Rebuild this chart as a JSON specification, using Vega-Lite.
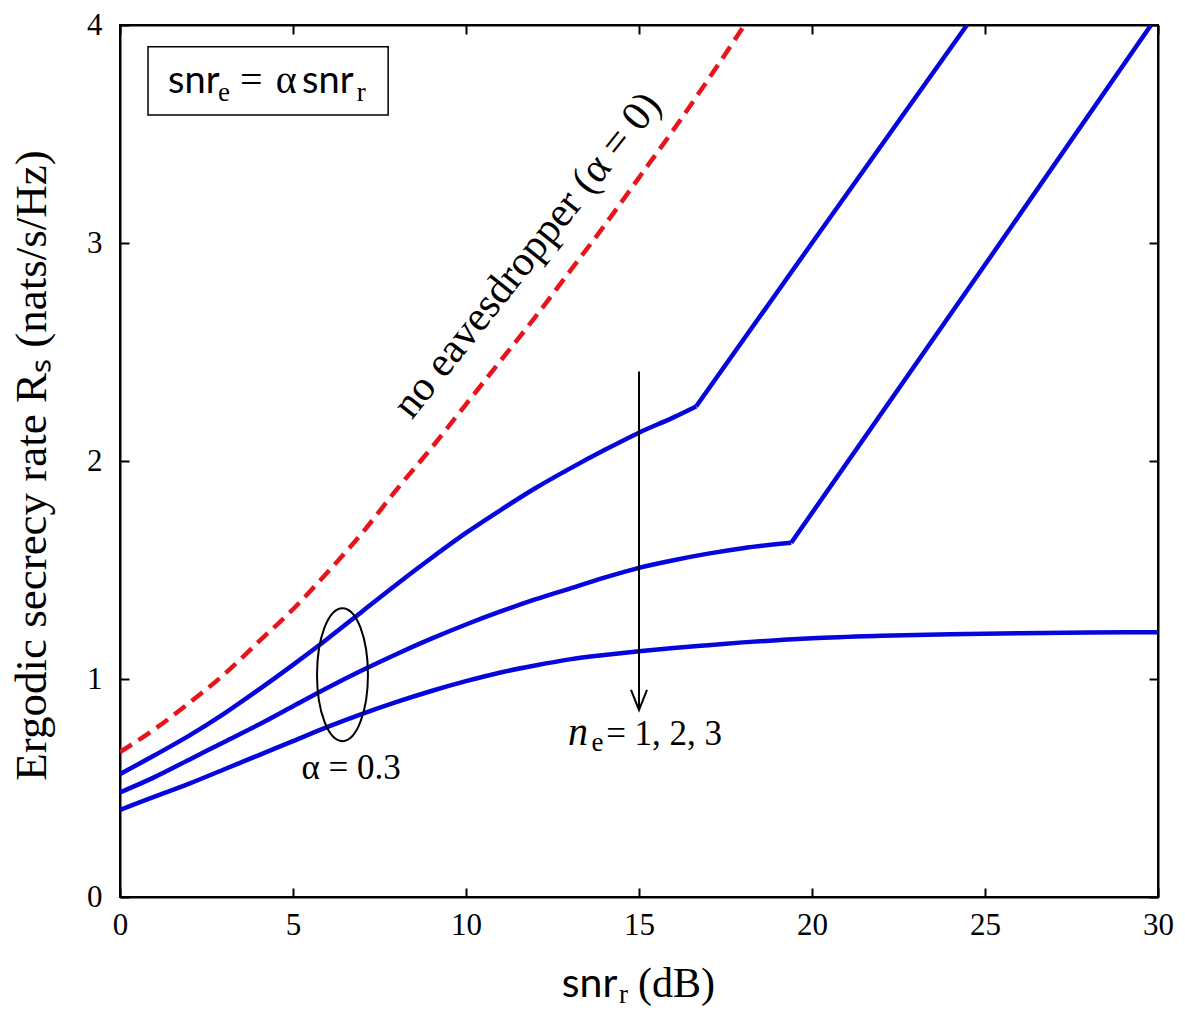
{
  "$schema": "https://vega.github.io/schema/vega-lite/v6.json",
  "width": 1038,
  "height": 872,
  "autosize": {"type": "none"},
  "padding": {"left": 120, "top": 25, "right": 27, "bottom": 116},
  "background": "white",
  "config": {
    "view": {"stroke": "black", "strokeWidth": 2},
    "axis": {
      "domainColor": "black", "domainWidth": 2,
      "tickColor": "black", "tickWidth": 2, "tickSize": -9,
      "labelFont": "Liberation Serif", "labelFontSize": 31, "labelColor": "black", "labelFlush": false,
      "grid": false,
      "titleFont": "Liberation Serif", "titleFontSize": 45, "titleColor": "black", "titleFontWeight": "normal"
    }
  },
  "datasets": {
    "bluecurve": [
      {"x": 0, "y": 0.564, "n": "1"}, {"x": 1, "y": 0.65, "n": "1"}, {"x": 2, "y": 0.74, "n": "1"}, {"x": 3, "y": 0.84, "n": "1"},
      {"x": 4, "y": 0.95, "n": "1"}, {"x": 5, "y": 1.065, "n": "1"}, {"x": 6, "y": 1.185, "n": "1"}, {"x": 7, "y": 1.31, "n": "1"},
      {"x": 8, "y": 1.435, "n": "1"}, {"x": 9, "y": 1.555, "n": "1"}, {"x": 10, "y": 1.67, "n": "1"}, {"x": 11, "y": 1.775, "n": "1"},
      {"x": 12, "y": 1.875, "n": "1"}, {"x": 13, "y": 1.965, "n": "1"}, {"x": 14, "y": 2.05, "n": "1"}, {"x": 15, "y": 2.13, "n": "1"},
      {"x": 16, "y": 2.20, "n": "1"}, {"x": 16.65, "y": 2.25, "n": "1"},
      {"x": 0, "y": 0.48, "n": "2"}, {"x": 1, "y": 0.55, "n": "2"}, {"x": 2, "y": 0.63, "n": "2"}, {"x": 3, "y": 0.71, "n": "2"},
      {"x": 4, "y": 0.79, "n": "2"}, {"x": 5, "y": 0.875, "n": "2"}, {"x": 6, "y": 0.96, "n": "2"}, {"x": 7, "y": 1.04, "n": "2"},
      {"x": 8, "y": 1.115, "n": "2"}, {"x": 9, "y": 1.185, "n": "2"}, {"x": 10, "y": 1.25, "n": "2"}, {"x": 11, "y": 1.31, "n": "2"},
      {"x": 12, "y": 1.365, "n": "2"}, {"x": 13, "y": 1.415, "n": "2"}, {"x": 14, "y": 1.465, "n": "2"}, {"x": 15, "y": 1.51, "n": "2"},
      {"x": 16, "y": 1.545, "n": "2"}, {"x": 17, "y": 1.575, "n": "2"}, {"x": 18, "y": 1.60, "n": "2"}, {"x": 19.4, "y": 1.625, "n": "2"},
      {"x": 0, "y": 0.40, "n": "3"}, {"x": 1, "y": 0.46, "n": "3"}, {"x": 2, "y": 0.52, "n": "3"}, {"x": 3, "y": 0.585, "n": "3"},
      {"x": 4, "y": 0.65, "n": "3"}, {"x": 5, "y": 0.715, "n": "3"}, {"x": 6, "y": 0.78, "n": "3"}, {"x": 7, "y": 0.84, "n": "3"},
      {"x": 8, "y": 0.895, "n": "3"}, {"x": 9, "y": 0.945, "n": "3"}, {"x": 10, "y": 0.99, "n": "3"}, {"x": 11, "y": 1.03, "n": "3"},
      {"x": 12, "y": 1.062, "n": "3"}, {"x": 13, "y": 1.09, "n": "3"}, {"x": 14, "y": 1.11, "n": "3"}, {"x": 15, "y": 1.127, "n": "3"},
      {"x": 16, "y": 1.142, "n": "3"}, {"x": 17, "y": 1.155, "n": "3"}, {"x": 18, "y": 1.168, "n": "3"}, {"x": 19, "y": 1.178, "n": "3"},
      {"x": 20, "y": 1.187, "n": "3"}, {"x": 22, "y": 1.198, "n": "3"}, {"x": 24, "y": 1.205, "n": "3"}, {"x": 26, "y": 1.21, "n": "3"},
      {"x": 28, "y": 1.213, "n": "3"}, {"x": 30, "y": 1.215, "n": "3"}
    ],
    "bluestraight": [
      {"x": 16.65, "y": 2.25, "n": "1"}, {"x": 20, "y": 3.0, "n": "1"}, {"x": 24.48, "y": 4.0, "n": "1"},
      {"x": 19.4, "y": 1.625, "n": "2"}, {"x": 25, "y": 2.9, "n": "2"}, {"x": 29.8, "y": 4.0, "n": "2"}
    ],
    "red": [
      {"x": 0, "y": 0.665}, {"x": 1, "y": 0.77}, {"x": 2, "y": 0.89}, {"x": 3, "y": 1.02}, {"x": 4, "y": 1.17},
      {"x": 5, "y": 1.32}, {"x": 6, "y": 1.49}, {"x": 7, "y": 1.67}, {"x": 8, "y": 1.87}, {"x": 9, "y": 2.06},
      {"x": 10, "y": 2.26}, {"x": 11, "y": 2.46}, {"x": 12, "y": 2.66}, {"x": 13, "y": 2.87}, {"x": 14, "y": 3.08},
      {"x": 15, "y": 3.30}, {"x": 16, "y": 3.52}, {"x": 17, "y": 3.75}, {"x": 18.05, "y": 4.0}
    ]
  },
  "layer": [
    {
      "data": {"name": "bluecurve"},
      "mark": {"type": "line", "color": "#0505dc", "strokeWidth": 4.5, "interpolate": "monotone", "clip": true},
      "encoding": {
        "x": {"field": "x", "type": "quantitative", "scale": {"domain": [0, 30], "nice": false},
              "axis": {"orient": "bottom", "values": [0, 5, 10, 15, 20, 25, 30], "title": null, "labelPadding": 22}},
        "y": {"field": "y", "type": "quantitative", "scale": {"domain": [0, 4], "nice": false},
              "axis": {"orient": "left", "values": [0, 1, 2, 3, 4], "labelPadding": 27,
                       "title": "Ergodic secrecy rate Rₛ (nats/s/Hz)", "titleAngle": -90, "titleX": -75, "titleY": 440,
                       "titleAlign": "center", "titleBaseline": "alphabetic"}},
        "detail": {"field": "n", "type": "nominal"}
      }
    },
    {
      "data": {"name": "bluestraight"},
      "mark": {"type": "line", "color": "#0505dc", "strokeWidth": 4.5, "clip": true},
      "encoding": {
        "x": {"field": "x", "type": "quantitative", "axis": null},
        "y": {"field": "y", "type": "quantitative", "axis": null},
        "detail": {"field": "n", "type": "nominal"}
      }
    },
    {
      "data": {"name": "red"},
      "mark": {"type": "line", "color": "#e8141c", "strokeWidth": 4.5, "strokeDash": [14, 8], "interpolate": "monotone", "clip": true},
      "encoding": {
        "x": {"field": "x", "type": "quantitative", "axis": null},
        "y": {"field": "y", "type": "quantitative", "axis": null}
      }
    },
    {
      "data": {"values": [{"x": 0.81, "x2": 7.75, "y": 3.90, "y2": 3.587}]},
      "mark": {"type": "rect", "fill": "white", "stroke": "black", "strokeWidth": 1.5},
      "encoding": {
        "x": {"field": "x", "type": "quantitative",
              "axis": {"orient": "top", "values": [0, 5, 10, 15, 20, 25, 30], "labels": false, "title": null}},
        "x2": {"field": "x2"},
        "y": {"field": "y", "type": "quantitative",
              "axis": {"orient": "right", "values": [0, 1, 2, 3, 4], "labels": false, "title": null}},
        "y2": {"field": "y2"}
      }
    },
    {
      "data": {"values": [{"x": 1.39, "y": 3.688, "t": "snr"}, {"x": 5.26, "y": 3.688, "t": "snr"}]},
      "mark": {"type": "text", "font": "Lato", "fontSize": 38, "align": "left", "baseline": "alphabetic", "color": "black"},
      "encoding": {
        "x": {"field": "x", "type": "quantitative", "axis": null},
        "y": {"field": "y", "type": "quantitative", "axis": null},
        "text": {"field": "t"}
      }
    },
    {
      "data": {"values": [{"x": 12.77, "y": -0.459, "t": "snr"}]},
      "mark": {"type": "text", "font": "Lato", "fontSize": 41, "align": "left", "baseline": "alphabetic", "color": "black"},
      "encoding": {
        "x": {"field": "x", "type": "quantitative", "axis": null},
        "y": {"field": "y", "type": "quantitative", "axis": null},
        "text": {"field": "t"}
      }
    },
    {
      "data": {"values": [{"x": 2.83, "y": 3.651, "t": "e"}, {"x": 6.84, "y": 3.651, "t": "r"}, {"x": 14.42, "y": -0.486, "t": "r"}, {"x": 13.63, "y": 0.67, "t": "e"}]},
      "mark": {"type": "text", "font": "Liberation Serif", "fontSize": 27, "align": "left", "baseline": "alphabetic", "color": "black"},
      "encoding": {
        "x": {"field": "x", "type": "quantitative", "axis": null},
        "y": {"field": "y", "type": "quantitative", "axis": null},
        "text": {"field": "t"}
      }
    },
    {
      "data": {"values": [{"x": 3.47, "y": 3.688, "t": "="}, {"x": 4.5, "y": 3.688, "t": "α"}]},
      "mark": {"type": "text", "font": "Liberation Serif", "fontSize": 40, "align": "left", "baseline": "alphabetic", "color": "black"},
      "encoding": {
        "x": {"field": "x", "type": "quantitative", "axis": null},
        "y": {"field": "y", "type": "quantitative", "axis": null},
        "text": {"field": "t"}
      }
    },
    {
      "data": {"values": [{"x": 14.97, "y": -0.459, "t": "(dB)"}]},
      "mark": {"type": "text", "font": "Liberation Serif", "fontSize": 42, "align": "left", "baseline": "alphabetic", "color": "black"},
      "encoding": {
        "x": {"field": "x", "type": "quantitative", "axis": null},
        "y": {"field": "y", "type": "quantitative", "axis": null},
        "text": {"field": "t"}
      }
    },
    {
      "data": {"values": [{"x": 14.05, "y": 0.697, "t": "= 1, 2, 3"}]},
      "mark": {"type": "text", "font": "Liberation Serif", "fontSize": 35, "align": "left", "baseline": "alphabetic", "color": "black"},
      "encoding": {
        "x": {"field": "x", "type": "quantitative", "axis": null},
        "y": {"field": "y", "type": "quantitative", "axis": null},
        "text": {"field": "t"}
      }
    },
    {
      "data": {"values": [{"x": 12.95, "y": 0.697, "t": "n"}]},
      "mark": {"type": "text", "font": "Liberation Serif", "fontSize": 40, "fontStyle": "italic", "align": "left", "baseline": "alphabetic", "color": "black"},
      "encoding": {
        "x": {"field": "x", "type": "quantitative", "axis": null},
        "y": {"field": "y", "type": "quantitative", "axis": null},
        "text": {"field": "t"}
      }
    },
    {
      "data": {"values": [{"x": 6.68, "y": 0.541, "t": "α = 0.3"}]},
      "mark": {"type": "text", "font": "Liberation Serif", "fontSize": 35, "align": "center", "baseline": "alphabetic", "color": "black"},
      "encoding": {
        "x": {"field": "x", "type": "quantitative", "axis": null},
        "y": {"field": "y", "type": "quantitative", "axis": null},
        "text": {"field": "t"}
      }
    },
    {
      "data": {"values": [{"x": 11.76, "y": 2.945, "t": "no eavesdropper (α = 0)"}]},
      "mark": {"type": "text", "font": "Liberation Serif", "fontSize": 42, "angle": -51.5, "align": "center", "baseline": "middle", "color": "black"},
      "encoding": {
        "x": {"field": "x", "type": "quantitative", "axis": null},
        "y": {"field": "y", "type": "quantitative", "axis": null},
        "text": {"field": "t"}
      }
    },
    {
      "data": {"values": [{"x": 6.43, "y": 1.02}]},
      "mark": {"type": "point", "shape": "M -0.383,0 A 0.383,1 0 1 0 0.383,0 A 0.383,1 0 1 0 -0.383,0 Z",
               "size": 17689, "filled": false, "stroke": "black", "strokeWidth": 2, "opacity": 1},
      "encoding": {
        "x": {"field": "x", "type": "quantitative", "axis": null},
        "y": {"field": "y", "type": "quantitative", "axis": null}
      }
    },
    {
      "data": {"values": [{"x": 15, "y": 2.41, "y2": 0.862}]},
      "mark": {"type": "rule", "stroke": "black", "strokeWidth": 2},
      "encoding": {
        "x": {"field": "x", "type": "quantitative", "axis": null},
        "y": {"field": "y", "type": "quantitative", "axis": null},
        "y2": {"field": "y2"}
      }
    },
    {
      "data": {"values": [{"x": 15, "y": 0.858}]},
      "mark": {"type": "point", "shape": "M -0.4,-1 L 0,0 L 0.4,-1", "size": 1600, "filled": false,
               "stroke": "black", "strokeWidth": 2, "opacity": 1},
      "encoding": {
        "x": {"field": "x", "type": "quantitative", "axis": null},
        "y": {"field": "y", "type": "quantitative", "axis": null}
      }
    }
  ],
  "resolve": {"axis": {"x": "independent", "y": "independent"}}
}
